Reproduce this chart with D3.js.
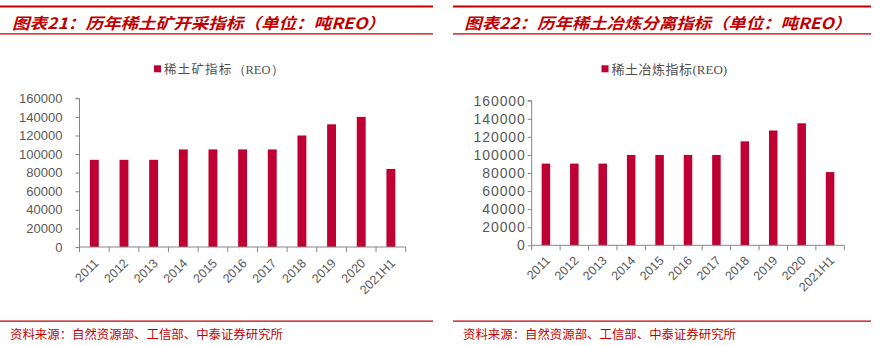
<!DOCTYPE html>
<html>
<head>
<meta charset="utf-8">
<script src="https://cdn.jsdelivr.net/npm/d3@7/dist/d3.min.js"></script>
<style>
  html, body { margin: 0; padding: 0; background: #fff; }
  svg { display: block; }
</style>
</head>
<body>
<svg id="chart" width="882" height="346"></svg>
<script>
// ---- data ----
const categories = ["2011","2012","2013","2014","2015","2016","2017","2018","2019","2020","2021H1"];
const miningQuota = [93800, 93800, 93800, 105000, 105000, 105000, 105000, 120000, 132000, 140000, 84000];
const smeltingQuota = [90400, 90400, 90400, 100000, 100000, 100000, 100000, 115000, 127000, 135000, 81000];
const yTicks = [0, 20000, 40000, 60000, 80000, 100000, 120000, 140000, 160000];
const titleLeft = "图表21：历年稀土矿开采指标（单位：吨REO）";
const titleRight = "图表22：历年稀土冶炼分离指标（单位：吨REO）";
const legendLeft = ["稀土矿指标", "（REO）"];
const legendRight = ["稀土冶炼指标", "(REO)"];
const sourceText = "资料来源：自然资源部、工信部、中泰证券研究所";

const RED = "#C00000";
const BAR = "#BE0032";
const AXIS = "#868686";
const LABEL = "#595959";
const CJK = "'Noto Sans CJK SC', sans-serif";

const svg = d3.select("#chart");

function panel(cfg) {
  const g = svg.append("g");
  // header lines
  g.append("line").attr("x1", cfg.lineX0).attr("x2", cfg.lineX1).attr("y1", 6.6).attr("y2", 6.6)
    .attr("stroke", RED).attr("stroke-width", 2);
  g.append("line").attr("x1", cfg.lineX0).attr("x2", cfg.lineX1).attr("y1", 33.8).attr("y2", 33.8)
    .attr("stroke", RED).attr("stroke-width", 1.2);
  g.append("text").attr("x", cfg.titleX).attr("y", 28.5)
    .attr("font-family", CJK).attr("font-weight", "bold").attr("font-style", "italic")
    .attr("font-size", 15.5).attr("fill", RED)
    .attr("textLength", cfg.titleW).attr("lengthAdjust", "spacingAndGlyphs")
    .text(cfg.title);
  // footer
  g.append("line").attr("x1", cfg.lineX0).attr("x2", cfg.lineX1).attr("y1", 321.2).attr("y2", 321.2)
    .attr("stroke", RED).attr("stroke-width", 1.3);
  g.append("text").attr("x", cfg.srcX).attr("y", 338.5)
    .attr("font-family", CJK).attr("font-size", 12).attr("fill", RED)
    .attr("textLength", 273).attr("lengthAdjust", "spacingAndGlyphs")
    .text(sourceText);

  // scales
  const x = d3.scaleBand().domain(categories).range(cfg.xRange).paddingInner(0).paddingOuter(0);
  const xb = d3.scaleBand().domain(categories).range(cfg.xRange).paddingInner(0.7).paddingOuter(0.35);
  const y = d3.scaleLinear().domain([0, 160000]).range(cfg.yRange);

  // bars
  g.append("g").selectAll("rect").data(cfg.values).join("rect")
    .attr("x", (d, i) => xb(categories[i]))
    .attr("width", xb.bandwidth())
    .attr("y", d => y(d))
    .attr("height", d => y(0) - y(d))
    .attr("fill", BAR);

  // y axis
  const ya = g.append("g").attr("transform", `translate(${cfg.xRange[0]},0)`)
    .call(d3.axisLeft(y).tickValues(yTicks).tickSize(4).tickPadding(cfg.yPad).tickFormat(d3.format("d")));
  ya.select(".domain").attr("stroke", AXIS).attr("d", `M-4,${cfg.yRange[1]}H0V${cfg.yRange[0]}`);
  ya.selectAll(".tick line").attr("stroke", AXIS);
  ya.selectAll(".tick text").attr("fill", LABEL).attr("font-family", "'Liberation Sans', Arial, sans-serif")
    .attr("font-size", cfg.yFont).attr("letter-spacing", cfg.yLS);

  // x axis
  const xa = g.append("g").attr("transform", `translate(0,${cfg.yRange[0]})`)
    .call(d3.axisBottom(x).tickSize(0).tickFormat(""));
  xa.select(".domain").attr("stroke", AXIS).attr("d", `M${cfg.xRange[0]},0H${cfg.xRange[1]}`);
  // boundary ticks
  const bounds = categories.map(c => x(c)).concat([x(categories[categories.length - 1]) + x.bandwidth()]);
  xa.append("g").selectAll("line").data(bounds).join("line")
    .attr("x1", d => d).attr("x2", d => d).attr("y1", 0).attr("y2", 5).attr("stroke", AXIS);
  // rotated labels
  xa.append("g").selectAll("text").data(categories).join("text")
    .attr("transform", d => `translate(${x(d) + x.bandwidth() / 2 + 5},${cfg.xLabDy}) rotate(-45)`)
    .attr("text-anchor", "end")
    .attr("fill", LABEL).attr("font-family", "'Liberation Sans', Arial, sans-serif").attr("font-size", 12.5)
    .text(d => d);

  // legend
  const lg = g.append("g");
  lg.append("rect").attr("x", cfg.legX).attr("y", 65.3).attr("width", 7).attr("height", 7).attr("fill", BAR);
  const lt = lg.append("text").attr("x", cfg.legX + 10).attr("y", 73.5).attr("fill", "#505050")
    .attr("font-size", cfg.legFont);
  lt.append("tspan").attr("font-family", CJK).attr("letter-spacing", cfg.legLS).text(cfg.legend[0]);
  lt.append("tspan").attr("font-family", "'Liberation Serif', 'Times New Roman', serif").text(cfg.legend[1]);
}

panel({
  lineX0: 0, lineX1: 433, titleX: 12, titleW: 373, title: titleLeft, srcX: 10,
  xRange: [79.5, 405.7], yRange: [247, 98.3], values: miningQuota,
  yPad: 13, yFont: 13, yLS: 0, xLabDy: 17,
  legX: 154, legend: legendLeft, legFont: 12.5, legLS: 1.2
});
panel({
  lineX0: 453, lineX1: 871, titleX: 464.3, titleW: 387, title: titleRight, srcX: 463,
  xRange: [531.7, 844.3], yRange: [245.3, 100.7], values: smeltingQuota,
  yPad: 2, yFont: 14, yLS: 0.9, xLabDy: 16,
  legX: 601.5, legend: legendRight, legFont: 13, legLS: 0.5
});
</script>
</body>
</html>
